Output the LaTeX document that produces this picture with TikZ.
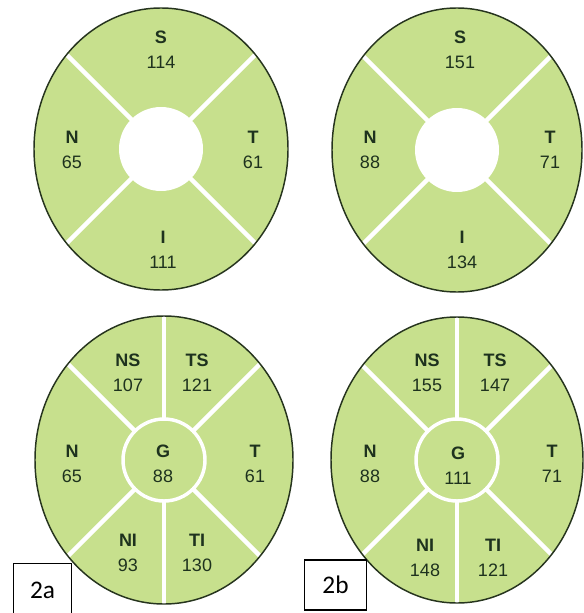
\documentclass[tikz,border=0pt]{standalone}
\usepackage{fontspec}
\setsansfont{Liberation Sans}
\newfontfamily\tagfont{Carlito}
\usepackage{tikz}
\definecolor{zonegreen}{RGB}{199,224,141}
\definecolor{rimgreen}{RGB}{38,52,30}
\definecolor{valgreen}{RGB}{30,50,30}
\tikzset{every picture/.style={/utils/exec={\sffamily}}}

\begin{document}
\begin{tikzpicture}[x=0.75pt, y=-0.75pt,
    zone/.style={fill=zonegreen},
    rim/.style={draw=rimgreen, line width=1.1pt},
    divider/.style={draw=white, line width=3.4pt},
    hole/.style={fill=white},
    ring/.style={draw=white, line width=2.6pt},
    sector/.style={align=center, text=valgreen, inner sep=0pt,
        font=\sffamily\fontsize{13.5}{18.5}\selectfont},
    tagbox/.style={draw=black, fill=white, line width=0.9pt, inner sep=0pt,
        font=\tagfont\fontsize{19}{19}\selectfont}]
    \useasboundingbox (0,0) rectangle (584,613);

    % Top left: four quadrants
    \begin{scope}[shift={(161,149)}]
        \fill[zone] (0,0) ellipse [x radius=127, y radius=141];
        \begin{scope}
            \clip (0,0) ellipse [x radius=127, y radius=141];
            \draw[divider] (0,0) -- (45:200);
            \draw[divider] (0,0) -- (135:200);
            \draw[divider] (0,0) -- (225:200);
            \draw[divider] (0,0) -- (315:200);
        \end{scope}
        \fill[hole] (0,0) circle [radius=42];
        \draw[rim] (0,0) ellipse [x radius=127, y radius=141];
    \end{scope}

    % Top right: four quadrants
    \begin{scope}[shift={(457,150)}]
        \fill[zone] (0,0) ellipse [x radius=125, y radius=142];
        \begin{scope}
            \clip (0,0) ellipse [x radius=125, y radius=142];
            \draw[divider] (0,0) -- (45:200);
            \draw[divider] (0,0) -- (135:200);
            \draw[divider] (0,0) -- (225:200);
            \draw[divider] (0,0) -- (315:200);
        \end{scope}
        \fill[hole] (0,0) circle [radius=42];
        \draw[rim] (0,0) ellipse [x radius=125, y radius=142];
    \end{scope}

    % Bottom left: six sectors and centre
    \begin{scope}[shift={(164,460)}]
        \fill[zone] (0,0) ellipse [x radius=129, y radius=144];
        \begin{scope}
            \clip (0,0) ellipse [x radius=129, y radius=144];
            \draw[divider] (90:41) -- (90:200);
            \draw[divider] (270:41) -- (270:200);
            \draw[divider] (45:41) -- (45:200);
            \draw[divider] (135:41) -- (135:200);
            \draw[divider] (225:41) -- (225:200);
            \draw[divider] (315:41) -- (315:200);
        \end{scope}
        \draw[ring] (0,0) circle [radius=41];
        \draw[rim] (0,0) ellipse [x radius=129, y radius=144];
    \end{scope}

    % Bottom right: six sectors and centre
    \begin{scope}[shift={(457,460)}]
        \fill[zone] (0,0) ellipse [x radius=126, y radius=143];
        \begin{scope}
            \clip (0,0) ellipse [x radius=126, y radius=143];
            \draw[divider] (90:41) -- (90:200);
            \draw[divider] (270:41) -- (270:200);
            \draw[divider] (45:41) -- (45:200);
            \draw[divider] (135:41) -- (135:200);
            \draw[divider] (225:41) -- (225:200);
            \draw[divider] (315:41) -- (315:200);
        \end{scope}
        \draw[ring] (0,0) circle [radius=41];
        \draw[rim] (0,0) ellipse [x radius=126, y radius=143];
    \end{scope}

    % Labels, top left
    \node[sector] (s1) at (161,50) {\textbf{S}\\114};
    \node[sector] (n1) at (72,150) {\textbf{N}\\65};
    \node[sector] (t1) at (253,150) {\textbf{T}\\61};
    \node[sector] (i1) at (163,250) {\textbf{I}\\111};

    % Labels, top right
    \node[sector] (s2) at (460,50) {\textbf{S}\\151};
    \node[sector] (n2) at (370,150) {\textbf{N}\\88};
    \node[sector] (t2) at (550,150) {\textbf{T}\\71};
    \node[sector] (i2) at (462,250) {\textbf{I}\\134};

    % Labels, bottom left
    \node[sector] (ns3) at (128,373) {\textbf{NS}\\107};
    \node[sector] (ts3) at (197,373) {\textbf{TS}\\121};
    \node[sector] (n3) at (72,464) {\textbf{N}\\65};
    \node[sector] (g3) at (163,464) {\textbf{G}\\88};
    \node[sector] (t3) at (255,464) {\textbf{T}\\61};
    \node[sector] (ni3) at (128,553) {\textbf{NI}\\93};
    \node[sector] (ti3) at (197,553) {\textbf{TI}\\130};

    % Labels, bottom right
    \node[sector] (ns4) at (427,373) {\textbf{NS}\\155};
    \node[sector] (ts4) at (495,373) {\textbf{TS}\\147};
    \node[sector] (n4) at (370,464) {\textbf{N}\\88};
    \node[sector] (g4) at (458,466) {\textbf{G}\\111};
    \node[sector] (t4) at (552,464) {\textbf{T}\\71};
    \node[sector] (ni4) at (425,558) {\textbf{NI}\\148};
    \node[sector] (ti4) at (493,558) {\textbf{TI}\\121};

    % Panel tags
    \node[tagbox, minimum width=44pt, minimum height=40pt] (taga) at (42.5,590) {2a};
    \node[tagbox, minimum width=46pt, minimum height=37.5pt] (tagb) at (335.5,585) {2b};
\end{tikzpicture}
\end{document}
